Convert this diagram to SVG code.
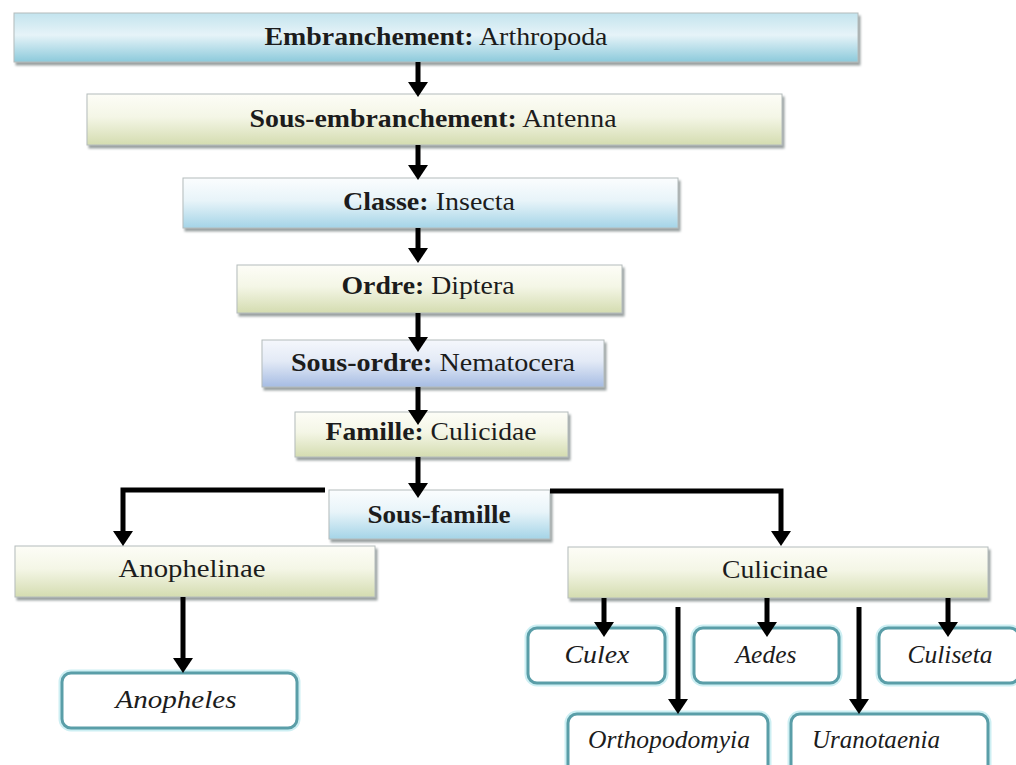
<svg xmlns="http://www.w3.org/2000/svg" width="1016" height="765" viewBox="0 0 1016 765">
<defs>
<linearGradient id="gB1" x1="0" y1="0" x2="0" y2="1"><stop offset="0" stop-color="#c3e4ee"/><stop offset="0.45" stop-color="#e6f3f8"/><stop offset="1" stop-color="#8ccadb"/></linearGradient>
<linearGradient id="gG" x1="0" y1="0" x2="0" y2="1"><stop offset="0" stop-color="#fdfdf7"/><stop offset="0.45" stop-color="#f4f6e6"/><stop offset="1" stop-color="#d4dcb0"/></linearGradient>
<linearGradient id="gB" x1="0" y1="0" x2="0" y2="1"><stop offset="0" stop-color="#fbfdfe"/><stop offset="0.45" stop-color="#e8f4f9"/><stop offset="1" stop-color="#a4d4e7"/></linearGradient>
<linearGradient id="gL" x1="0" y1="0" x2="0" y2="1"><stop offset="0" stop-color="#f5f7fc"/><stop offset="0.45" stop-color="#e3eaf6"/><stop offset="1" stop-color="#a6bce3"/></linearGradient>
<filter id="sh" x="-5%" y="-20%" width="110%" height="150%"><feDropShadow dx="2" dy="3" stdDeviation="1" flood-color="#6f7a7a" flood-opacity="0.7"/></filter>
<marker id="ah" viewBox="0 0 15 20" refX="3" refY="10" markerWidth="15" markerHeight="20" markerUnits="userSpaceOnUse" orient="auto"><path d="M0,0 L15,10 L0,20 Z" fill="#000"/></marker>
<style>
.box{stroke:#b4bcbc;stroke-width:1;filter:url(#sh)}
.rb{fill:#fff;stroke:#5a9ea8;stroke-width:3}
.rbg{fill:none;stroke:#cdeff3;stroke-width:7}
.t{font-family:'Liberation Serif',serif;font-size:26px;fill:#1c1c1c;text-anchor:middle}
.b{font-weight:bold}
.i{font-style:italic}
.c{fill:none;stroke:#000;stroke-width:5;marker-end:url(#ah)}
</style>
</defs>
<rect width="1016" height="765" fill="#fff"/>
<g id="n-embranchement"><rect class="box" x="14" y="13" width="844" height="49" fill="url(#gB1)"/><text class="t" font-family="Liberation Serif" x="436" y="45" textLength="343" lengthAdjust="spacingAndGlyphs"><tspan class="b">Embranchement:</tspan> Arthropoda</text></g>
<g id="n-sous-embranchement"><rect class="box" x="87" y="94" width="695" height="51" fill="url(#gG)"/><text class="t" font-family="Liberation Serif" x="433" y="127" textLength="367" lengthAdjust="spacingAndGlyphs"><tspan class="b">Sous-embranchement:</tspan> Antenna</text></g>
<g id="n-classe"><rect class="box" x="183" y="178" width="495" height="50" fill="url(#gB)"/><text class="t" font-family="Liberation Serif" x="429" y="210" textLength="172" lengthAdjust="spacingAndGlyphs"><tspan class="b">Classe:</tspan> Insecta</text></g>
<g id="n-ordre"><rect class="box" x="237" y="265" width="385" height="48" fill="url(#gG)"/><text class="t" font-family="Liberation Serif" x="428" y="294" textLength="173" lengthAdjust="spacingAndGlyphs"><tspan class="b">Ordre:</tspan> Diptera</text></g>
<g id="n-sous-ordre"><rect class="box" x="262" y="340" width="342" height="47" fill="url(#gL)"/><text class="t" font-family="Liberation Serif" x="433" y="371" textLength="284" lengthAdjust="spacingAndGlyphs"><tspan class="b">Sous-ordre:</tspan> Nematocera</text></g>
<g id="n-famille"><rect class="box" x="295" y="412" width="273" height="45" fill="url(#gG)"/><text class="t" font-family="Liberation Serif" x="431" y="440" textLength="211" lengthAdjust="spacingAndGlyphs"><tspan class="b">Famille:</tspan> Culicidae</text></g>
<g id="n-sous-famille"><rect class="box" x="329" y="490" width="221" height="49" fill="url(#gB)"/><text class="t b" font-family="Liberation Serif" x="439" y="523" textLength="143" lengthAdjust="spacingAndGlyphs">Sous-famille</text></g>
<g id="n-anophelinae"><rect class="box" x="15" y="546" width="360" height="51" fill="url(#gG)"/><text class="t" font-family="Liberation Serif" x="192" y="577" textLength="147" lengthAdjust="spacingAndGlyphs">Anophelinae</text></g>
<g id="n-culicinae"><rect class="box" x="568" y="547" width="420" height="51" fill="url(#gG)"/><text class="t" font-family="Liberation Serif" x="775" y="578" textLength="106" lengthAdjust="spacingAndGlyphs">Culicinae</text></g>
<g id="n-anopheles"><rect class="rbg" x="62" y="673" width="235" height="55" rx="9"/><rect class="rb" x="62" y="673" width="235" height="55" rx="9"/><text class="t i" font-family="Liberation Serif" x="176" y="708" textLength="121" lengthAdjust="spacingAndGlyphs">Anopheles</text></g>
<g id="n-culex"><rect class="rbg" x="528" y="628" width="137" height="55" rx="9"/><rect class="rb" x="528" y="628" width="137" height="55" rx="9"/><text class="t i" font-family="Liberation Serif" x="597" y="663" textLength="65" lengthAdjust="spacingAndGlyphs">Culex</text></g>
<g id="n-aedes"><rect class="rbg" x="694" y="628" width="145" height="55" rx="9"/><rect class="rb" x="694" y="628" width="145" height="55" rx="9"/><text class="t i" font-family="Liberation Serif" x="766" y="663" textLength="61" lengthAdjust="spacingAndGlyphs">Aedes</text></g>
<g id="n-culiseta"><rect class="rbg" x="879" y="628" width="140" height="55" rx="9"/><rect class="rb" x="879" y="628" width="140" height="55" rx="9"/><text class="t i" font-family="Liberation Serif" x="950" y="663" textLength="85" lengthAdjust="spacingAndGlyphs">Culiseta</text></g>
<g id="n-orthopodomyia"><rect class="rbg" x="568" y="714" width="200" height="60" rx="9"/><rect class="rb" x="568" y="714" width="200" height="60" rx="9"/><text class="t i" font-family="Liberation Serif" x="669" y="748" textLength="162" lengthAdjust="spacingAndGlyphs">Orthopodomyia</text></g>
<g id="n-uranotaenia"><rect class="rbg" x="791" y="714" width="197" height="60" rx="9"/><rect class="rb" x="791" y="714" width="197" height="60" rx="9"/><text class="t i" font-family="Liberation Serif" x="876" y="748" textLength="128" lengthAdjust="spacingAndGlyphs">Uranotaenia</text></g>
<g id="connectors">
<path class="c" d="M418,62 V85"/>
<path class="c" d="M418,145 V168"/>
<path class="c" d="M418,228 V251"/>
<path class="c" d="M418,313 V340"/>
<path class="c" d="M418,387 V413"/>
<path class="c" d="M418,457 V486"/>
<path class="c" d="M325,490 H123 V534"/>
<path class="c" d="M550,491 H781 V534"/>
<path class="c" d="M183,597 V661"/>
<path class="c" d="M604,598 V625"/>
<path class="c" d="M767,598 V625"/>
<path class="c" d="M948,598 V625"/>
<path class="c" d="M678,607 V702"/>
<path class="c" d="M859,607 V702"/>
</g>
</svg>
